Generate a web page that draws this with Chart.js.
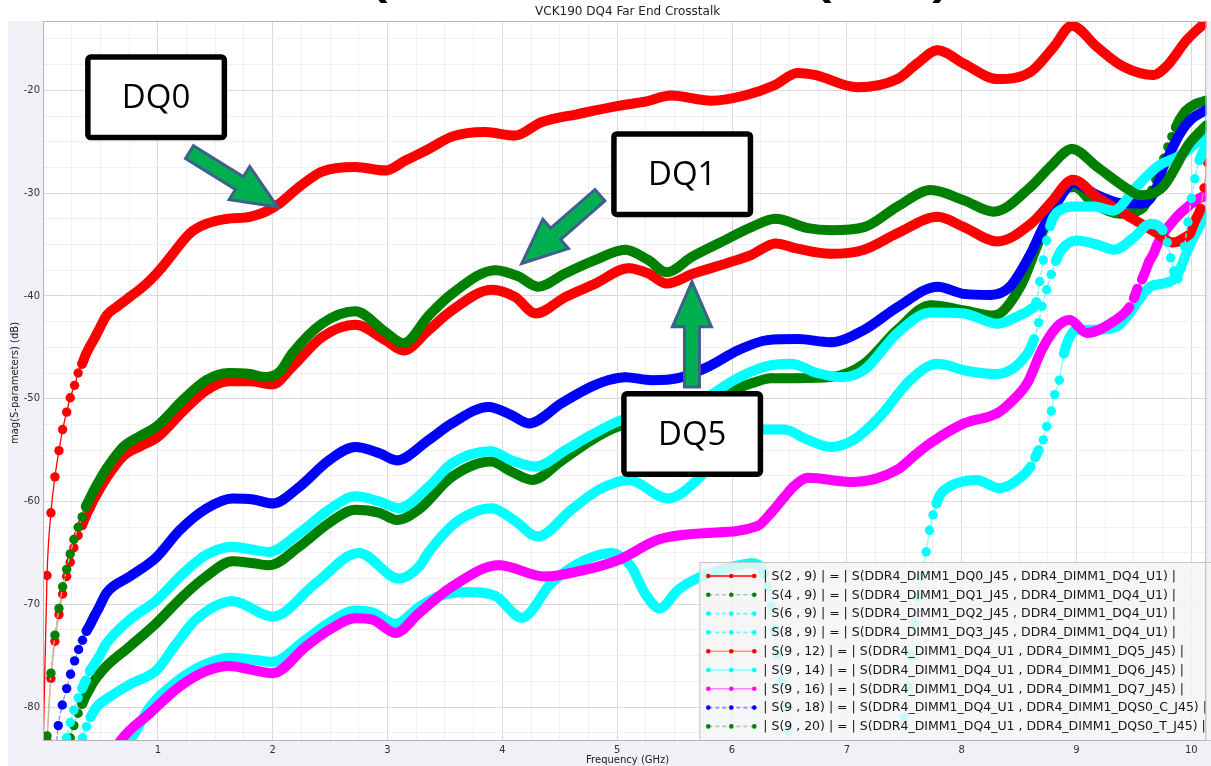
<!DOCTYPE html>
<html>
<head>
<meta charset="utf-8">
<title>VCK190 DQ4 Far End Crosstalk</title>
<script src="https://cdn.jsdelivr.net/npm/chart.js@4.4.1/dist/chart.umd.min.js"></script>
<style>
  html, body { margin: 0; padding: 0; background: #fff; overflow: hidden; }
  #wrap { width: 1211px; height: 766px; }
</style>
</head>
<body>
<div id="wrap"><canvas id="fext" width="1211" height="766"></canvas></div>
<script>
// Far end crosstalk into DQ4, [frequency GHz, magnitude dB]
const s2_9 = [[0.001,-84.5],[0.035,-67.2],[0.069,-61.1],[0.104,-57.6],[0.139,-55.05],[0.171,-53.0],[0.206,-51.3],[0.237,-49.9],[0.275,-48.7],[0.306,-47.5],[0.341,-46.6],[0.373,-45.7],[0.408,-44.9],[0.445,-44.2],[0.5,-43.0],[0.553,-41.9],[0.65,-41.0],[0.755,-40.1],[0.85,-39.3],[0.93,-38.5],[1.03,-37.3],[1.13,-35.9],[1.28,-33.9],[1.42,-33.0],[1.6,-32.5],[1.8,-32.3],[1.94,-31.8],[2.06,-31.0],[2.23,-29.4],[2.43,-27.9],[2.72,-27.45],[2.98,-27.8],[3.16,-26.8],[3.36,-25.7],[3.56,-24.5],[3.85,-24.05],[4.11,-24.4],[4.34,-23.1],[4.66,-22.3],[5.01,-21.5],[5.24,-21.1],[5.47,-20.5],[5.82,-21.0],[6.11,-20.5],[6.37,-19.5],[6.57,-18.3],[6.72,-18.5],[7.09,-19.7],[7.44,-18.9],[7.61,-17.4],[7.79,-16.1],[8.02,-17.4],[8.31,-18.9],[8.6,-18.2],[8.8,-15.8],[8.96,-13.7],[9.18,-15.8],[9.41,-17.7],[9.67,-18.5],[9.78,-17.7],[9.96,-15.1],[10.12,-13.4]];
const s4_9 = [[0.035,-82.8],[0.069,-76.7],[0.104,-73.0],[0.139,-70.4],[0.171,-68.3],[0.206,-66.6],[0.237,-65.1],[0.269,-63.7],[0.306,-62.5],[0.341,-61.5],[0.373,-60.5],[0.408,-59.7],[0.443,-58.9],[0.483,-58.1],[0.553,-56.8],[0.697,-54.7],[0.85,-53.6],[0.99,-52.7],[1.22,-50.1],[1.42,-48.2],[1.62,-47.5],[1.8,-47.6],[1.94,-47.9],[2.06,-47.4],[2.17,-45.6],[2.43,-42.7],[2.72,-41.5],[2.98,-43.5],[3.14,-44.6],[3.36,-41.9],[3.56,-39.8],[3.94,-37.5],[4.14,-38.1],[4.31,-39.1],[4.55,-37.8],[4.81,-36.5],[5.07,-35.5],[5.27,-36.5],[5.43,-37.7],[5.65,-36.2],[5.88,-34.9],[6.17,-33.3],[6.38,-32.5],[6.66,-33.4],[6.86,-33.6],[7.15,-33.3],[7.44,-31.3],[7.73,-29.7],[8.02,-30.7],[8.28,-31.8],[8.6,-29.4],[8.77,-27.45],[8.96,-25.7],[9.18,-27.45],[9.46,-29.7],[9.55,-30.2],[9.75,-29.4],[9.98,-25.2],[10.13,-23.4]];
const s6_9 = [[0.171,-86],[0.206,-83.0],[0.237,-81.5],[0.269,-80.3],[0.306,-79.1],[0.341,-78.2],[0.373,-77.4],[0.408,-76.5],[0.443,-75.9],[0.483,-75.2],[0.553,-73.8],[0.755,-71.5],[0.99,-69.6],[1.22,-67.0],[1.42,-65.2],[1.65,-64.4],[1.83,-64.7],[1.97,-64.9],[2.23,-63.1],[2.49,-60.8],[2.72,-59.5],[2.93,-60.0],[3.1,-60.65],[3.36,-58.55],[3.56,-56.3],[3.9,-55.1],[4.08,-56.0],[4.29,-56.6],[4.55,-55.0],[4.78,-53.5],[5.01,-52.2],[5.15,-51.8],[5.4,-52.2],[5.7,-50.5],[6.0,-48.3],[6.28,-46.9],[6.51,-46.6],[6.74,-47.5],[6.95,-47.9],[7.15,-47.2],[7.44,-43.6],[7.73,-41.6],[8.02,-41.7],[8.31,-42.7],[8.52,-41.8],[8.6,-41.3],[8.65,-40.6],[8.68,-38.6],[8.71,-36.5],[8.74,-34.6],[8.77,-33.2],[8.8,-32.3],[8.85,-31.7],[8.97,-31.3],[9.15,-31.3],[9.32,-31.7],[9.52,-29.4],[9.7,-27.45],[9.92,-26.2],[10.14,-24.2]];
const s8_9 = [[0.31,-86],[0.345,-83.0],[0.379,-81.9],[0.414,-81.0],[0.448,-80.3],[0.483,-79.8],[0.553,-79.2],[0.755,-77.8],[0.99,-76.4],[1.15,-74.0],[1.33,-71.5],[1.65,-69.7],[2.0,-71.2],[2.38,-67.9],[2.75,-65.0],[3.1,-67.5],[3.27,-66.4],[3.36,-64.9],[3.6,-62.0],[3.91,-60.65],[4.1,-61.8],[4.31,-63.4],[4.6,-60.8],[4.85,-58.8],[5.1,-57.9],[5.44,-59.7],[5.82,-56.6],[6.05,-54.3],[6.28,-53.0],[6.45,-53.0],[6.66,-54.0],[6.86,-54.7],[7.06,-54.0],[7.29,-51.7],[7.55,-48.2],[7.79,-46.6],[8.05,-47.3],[8.3,-47.6],[8.56,-45.8],[8.63,-44.2],[8.67,-42.6],[8.7,-41.0],[8.74,-39.4],[8.78,-37.9],[8.82,-36.6],[8.87,-35.5],[9.0,-34.6],[9.18,-35.0],[9.33,-35.5],[9.5,-34.3],[9.64,-33.0],[9.75,-33.6],[9.79,-34.8],[9.82,-36.3],[9.85,-37.6],[9.88,-38.3],[9.91,-37.3],[9.94,-35.2],[9.97,-32.8],[10.0,-30.5],[10.03,-28.6],[10.07,-26.8],[10.13,-25.3]];
const s9_12 = [[0.035,-83.3],[0.069,-77.2],[0.104,-73.6],[0.139,-71.0],[0.171,-69.0],[0.206,-67.3],[0.237,-65.9],[0.269,-64.5],[0.306,-63.3],[0.341,-62.3],[0.373,-61.4],[0.408,-60.6],[0.443,-59.8],[0.483,-59.0],[0.553,-57.7],[0.697,-55.6],[0.85,-54.6],[0.99,-53.8],[1.22,-51.2],[1.42,-49.2],[1.62,-48.3],[1.8,-48.3],[2.0,-48.6],[2.17,-46.9],[2.43,-44.0],[2.72,-42.8],[2.98,-44.3],[3.14,-45.3],[3.36,-43.3],[3.56,-41.4],[3.91,-39.4],[4.11,-40.1],[4.29,-41.7],[4.55,-40.1],[4.81,-38.8],[5.1,-37.3],[5.27,-37.8],[5.43,-38.8],[5.67,-37.8],[5.96,-36.8],[6.17,-36.0],[6.38,-34.9],[6.57,-35.4],[6.86,-35.9],[7.15,-35.5],[7.44,-33.9],[7.79,-32.3],[8.02,-33.3],[8.31,-34.7],[8.6,-33.0],[8.77,-31.0],[8.97,-28.7],[9.18,-30.4],[9.46,-32.3],[9.7,-33.9],[9.84,-34.8],[9.87,-34.75],[9.9,-34.6],[9.93,-34.4],[9.96,-34.2],[9.99,-33.9],[10.02,-33.0],[10.05,-32.3],[10.08,-31.5],[10.11,-29.5],[10.14,-27.0]];
const s9_14 = [[0.7,-84.5],[0.84,-81.7],[0.93,-80.0],[1.19,-77.3],[1.42,-75.8],[1.62,-75.2],[1.83,-75.4],[2.0,-75.6],[2.29,-73.4],[2.49,-71.8],[2.72,-70.6],[2.87,-70.8],[3.07,-71.9],[3.27,-70.3],[3.45,-69.2],[3.71,-68.8],[3.94,-69.2],[4.17,-71.3],[4.43,-67.9],[4.72,-65.7],[4.95,-65.0],[5.12,-66.3],[5.24,-68.9],[5.37,-70.4],[5.53,-68.6],[5.73,-67.3],[6.02,-66.3],[6.17,-66.0],[6.25,-66.3],[6.28,-67.0],[6.31,-68.3],[6.34,-70.2],[6.37,-72.4],[6.4,-74.9],[6.43,-77.5],[6.46,-80.0],[6.49,-82.3],[6.52,-84.6],[6.56,-87],[7.0,-95],[7.46,-87],[7.5,-81.0],[7.53,-78.0],[7.56,-75.0],[7.59,-71.8],[7.62,-69.3],[7.65,-67.3],[7.69,-64.9],[7.72,-62.8],[7.75,-61.3],[7.78,-60.2],[7.81,-59.4],[7.9,-58.5],[8.13,-57.9],[8.33,-58.7],[8.52,-57.6],[8.6,-56.6],[8.64,-55.7],[8.67,-55.0],[8.71,-54.0],[8.74,-52.7],[8.78,-51.2],[8.81,-49.6],[8.85,-48.2],[8.89,-45.6],[8.94,-44.0],[9.0,-43.3],[9.17,-43.3],[9.35,-43.0],[9.46,-41.7],[9.64,-39.1],[9.75,-38.8],[9.87,-38.1],[9.98,-35.2],[10.13,-32.0]];
const s9_16 = [[0.6,-84.8],[0.68,-83.2],[0.93,-80.6],[1.19,-78.0],[1.42,-76.5],[1.62,-76.0],[1.83,-76.4],[2.0,-76.7],[2.29,-74.1],[2.49,-72.5],[2.72,-71.35],[2.87,-71.5],[3.07,-72.8],[3.27,-70.9],[3.56,-68.3],[3.97,-66.2],[4.37,-67.3],[4.66,-66.8],[5.01,-65.7],[5.36,-63.7],[5.73,-63.1],[6.22,-62.4],[6.34,-61.1],[6.46,-59.5],[6.54,-58.5],[6.66,-57.7],[7.06,-58.1],[7.44,-56.9],[7.58,-55.6],[7.73,-54.3],[8.02,-52.4],[8.31,-51.4],[8.45,-50.1],[8.57,-48.5],[8.7,-45.2],[8.83,-43.0],[8.94,-42.35],[9.09,-43.6],[9.32,-42.5],[9.46,-41.1],[9.5,-40.2],[9.53,-39.3],[9.57,-38.4],[9.6,-37.6],[9.63,-36.7],[9.67,-35.9],[9.7,-35.1],[9.73,-34.4],[9.77,-33.7],[9.82,-33.0],[9.9,-32.0],[10.07,-30.5],[10.14,-30.2]];
const s9_18 = [[0.099,-86],[0.133,-81.8],[0.168,-79.8],[0.206,-78.2],[0.24,-76.8],[0.275,-75.5],[0.31,-74.4],[0.344,-73.5],[0.379,-72.6],[0.414,-71.9],[0.445,-71.2],[0.48,-70.5],[0.553,-68.9],[0.755,-67.3],[0.99,-65.4],[1.19,-62.8],[1.42,-60.7],[1.65,-59.7],[1.83,-59.8],[2.0,-60.2],[2.23,-58.6],[2.49,-56.0],[2.72,-54.7],[2.93,-55.3],[3.08,-56.0],[3.36,-54.0],[3.56,-52.4],[3.88,-50.8],[4.08,-51.6],[4.23,-52.4],[4.52,-50.4],[4.78,-48.8],[4.92,-48.2],[5.07,-47.9],[5.3,-48.2],[5.53,-48.0],[5.79,-46.9],[6.05,-45.3],[6.31,-44.3],[6.57,-44.2],[6.86,-44.5],[7.15,-43.3],[7.44,-41.1],[7.79,-39.1],[8.02,-39.8],[8.25,-39.9],[8.42,-39.1],[8.6,-35.9],[8.71,-33.3],[8.86,-30.4],[8.97,-29.0],[9.18,-30.2],[9.41,-31.0],[9.58,-31.0],[9.7,-29.4],[9.75,-27.6],[9.81,-26.2],[9.9,-24.2],[9.99,-22.9],[10.13,-21.9]];
const s9_20 = [[0.2,-86],[0.237,-83.0],[0.269,-81.8],[0.306,-80.6],[0.341,-79.7],[0.373,-78.9],[0.408,-78.2],[0.443,-77.5],[0.483,-76.9],[0.553,-76.0],[0.755,-74.1],[0.99,-71.8],[1.22,-69.2],[1.42,-67.3],[1.65,-65.8],[1.83,-66.0],[1.97,-66.2],[2.23,-64.4],[2.49,-62.1],[2.72,-60.8],[2.93,-61.1],[3.08,-61.8],[3.27,-60.8],[3.56,-57.6],[3.9,-56.1],[4.08,-57.1],[4.26,-57.9],[4.52,-56.0],[4.78,-54.0],[5.01,-52.7],[5.2,-52.4],[5.45,-52.6],[5.75,-50.6],[6.05,-49.0],[6.17,-48.5],[6.34,-48.0],[6.57,-48.0],[6.86,-47.9],[7.15,-46.6],[7.44,-43.3],[7.73,-40.9],[8.02,-41.4],[8.28,-41.9],[8.51,-39.1],[8.655,-35.2],[8.77,-32.0],[8.89,-29.7],[8.98,-29.4],[9.15,-31.0],[9.38,-32.0],[9.58,-31.4],[9.62,-30.6],[9.655,-29.7],[9.69,-28.7],[9.725,-27.7],[9.76,-26.6],[9.795,-25.5],[9.83,-24.5],[9.865,-23.6],[9.9,-22.8],[9.95,-22.0],[10.04,-21.3],[10.13,-21.0]];

const legendLabels = [
  '| S(2 , 9) | = | S(DDR4_DIMM1_DQ0_J45 , DDR4_DIMM1_DQ4_U1) |',
  '| S(4 , 9) | = | S(DDR4_DIMM1_DQ1_J45 , DDR4_DIMM1_DQ4_U1) |',
  '| S(6 , 9) | = | S(DDR4_DIMM1_DQ2_J45 , DDR4_DIMM1_DQ4_U1) |',
  '| S(8 , 9) | = | S(DDR4_DIMM1_DQ3_J45 , DDR4_DIMM1_DQ4_U1) |',
  '| S(9 , 12) | = | S(DDR4_DIMM1_DQ4_U1 , DDR4_DIMM1_DQ5_J45) |',
  '| S(9 , 14) | = | S(DDR4_DIMM1_DQ4_U1 , DDR4_DIMM1_DQ6_J45) |',
  '| S(9 , 16) | = | S(DDR4_DIMM1_DQ4_U1 , DDR4_DIMM1_DQ7_J45) |',
  '| S(9 , 18) | = | S(DDR4_DIMM1_DQ4_U1 , DDR4_DIMM1_DQS0_C_J45) |',
  '| S(9 , 20) | = | S(DDR4_DIMM1_DQ4_U1 , DDR4_DIMM1_DQS0_T_J45) |'
];

// marker colour, thin connector colour/dash, draw order (lower = on top)
const series = [
  { pts: s2_9,  color: '#ff0000', line: '#ff0000', dash: [],     order: 0 },
  { pts: s4_9,  color: '#008000', line: '#9fd29f', dash: [4, 3], order: 1 },
  { pts: s6_9,  color: '#00ffff', line: '#70f4f4', dash: [4, 3], order: 2 },
  { pts: s8_9,  color: '#00ffff', line: '#70f4f4', dash: [4, 3], order: 3 },
  { pts: s9_12, color: '#ff0000', line: '#ff8e8e', dash: [],     order: 4 },
  { pts: s9_14, color: '#00ffff', line: '#80ffff', dash: [],     order: 6 },
  { pts: s9_16, color: '#ff00ff', line: '#ff8aff', dash: [],     order: 5 },
  { pts: s9_18, color: '#0000ff', line: '#8c8cff', dash: [4, 3], order: 7 },
  { pts: s9_20, color: '#008000', line: '#9fd29f', dash: [4, 3], order: 8 }
];

// callout boxes and arrows, in GHz / dB
const callouts = [
  { text: 'DQ0', box: [0.985, -20.68], tail: [1.276, -26.0], tip: [2.043, -31.34] },
  { text: 'DQ1', box: [5.566, -28.15], tail: [4.85, -30.2],  tip: [4.169, -36.84] },
  { text: 'DQ5', box: [5.653, -53.43], tail: [5.651, -48.86], tip: [5.651, -38.63] }
];

const FONT = "'DejaVu Sans', sans-serif";
const near = (v, m) => Math.abs(v / m - Math.round(v / m)) < 1e-6;

// a segment between two close-spaced markers that do not touch is drawn as the thin connector
function thin(ctx) {
  const dx = Math.abs(ctx.p1.x - ctx.p0.x), dy = Math.abs(ctx.p1.y - ctx.p0.y);
  return dx < 5.2 && Math.hypot(dx, dy) > 10;
}

const datasets = series.map((s, i) => ({
  label: legendLabels[i],
  data: s.pts.map(([x, y]) => ({ x, y })),
  order: s.order,
  clip: 0,
  borderColor: s.color,
  borderWidth: 10,
  borderCapStyle: 'round',
  borderJoinStyle: 'round',
  cubicInterpolationMode: 'monotone',
  pointRadius: 4.7,
  pointBorderWidth: 0,
  pointBackgroundColor: s.color,
  segment: {
    borderWidth: ctx => thin(ctx) ? 1.3 : 10,
    borderColor: ctx => thin(ctx) ? s.line : s.color,
    borderDash: ctx => thin(ctx) ? s.dash : []
  }
}));

function arrow(ctx, x0, y0, x1, y1) {
  const len = Math.hypot(x1 - x0, y1 - y0), ang = Math.atan2(y1 - y0, x1 - x0);
  const sw = 7.5, hw = 19.5, hl = 45;
  ctx.save();
  ctx.translate(x0, y0);
  ctx.rotate(ang);
  ctx.beginPath();
  ctx.moveTo(0, -sw);
  ctx.lineTo(len - hl, -sw);
  ctx.lineTo(len - hl, -hw);
  ctx.lineTo(len, 0);
  ctx.lineTo(len - hl, hw);
  ctx.lineTo(len - hl, sw);
  ctx.lineTo(0, sw);
  ctx.closePath();
  ctx.fillStyle = '#00b050';
  ctx.fill();
  ctx.lineWidth = 3;
  ctx.strokeStyle = '#3f5f8c';
  ctx.stroke();
  ctx.restore();
}

function boxPath(ctx, x, y, w, h, r) {
  ctx.beginPath();
  ctx.moveTo(x + r, y);
  ctx.lineTo(x + w - r, y);
  ctx.arcTo(x + w, y, x + w, y + r, r);
  ctx.lineTo(x + w, y + h - r);
  ctx.arcTo(x + w, y + h, x + w - r, y + h, r);
  ctx.lineTo(x + r, y + h);
  ctx.arcTo(x, y + h, x, y + h - r, r);
  ctx.lineTo(x, y + r);
  ctx.arcTo(x, y, x + r, y, r);
  ctx.closePath();
}

const decor = {
  id: 'decor',
  beforeDraw(chart) {
    const { ctx, chartArea: a, width, height } = chart;
    ctx.save();
    ctx.fillStyle = '#ffffff';
    ctx.fillRect(0, 0, width, height);
    ctx.fillStyle = '#f0f0f7';
    ctx.fillRect(8, a.top, width - 8, height - a.top);
    ctx.fillStyle = '#ffffff';
    ctx.fillRect(a.left, a.top, a.right - a.left, a.bottom - a.top);
    ctx.restore();
  },
  afterDatasetsDraw(chart) {
    const { ctx, chartArea: a } = chart;
    const xs = chart.scales.x, ys = chart.scales.y;

    // legend
    ctx.save();
    const lx = a.right - 507, ly = a.bottom - 179;
    ctx.fillStyle = 'rgba(244,244,244,0.84)';
    ctx.fillRect(lx, ly, 520, 178);
    ctx.strokeStyle = '#c6c6c6';
    ctx.lineWidth = 1;
    ctx.strokeRect(lx + 0.5, ly + 0.5, 520, 178);
    ctx.font = '12.5px ' + FONT;
    ctx.textBaseline = 'middle';
    series.forEach((s, i) => {
      const y = ly + 14 + i * 18.8;
      ctx.setLineDash(s.dash);
      ctx.strokeStyle = i === 0 ? s.color : s.line;
      ctx.lineWidth = 1.6;
      ctx.beginPath();
      ctx.moveTo(lx + 9, y);
      ctx.lineTo(lx + 55, y);
      ctx.stroke();
      ctx.setLineDash([]);
      ctx.fillStyle = s.color;
      [9, 32, 55].forEach(dx => {
        ctx.beginPath();
        ctx.arc(lx + dx, y, 2.3, 0, Math.PI * 2);
        ctx.fill();
      });
      ctx.fillStyle = '#151515';
      ctx.fillText(legendLabels[i], lx + 64, y + 0.5);
    });
    ctx.restore();

    // callouts
    ctx.save();
    callouts.forEach(c => {
      arrow(ctx, xs.getPixelForValue(c.tail[0]), ys.getPixelForValue(c.tail[1]),
                 xs.getPixelForValue(c.tip[0]), ys.getPixelForValue(c.tip[1]));
    });
    callouts.forEach(c => {
      const cx = xs.getPixelForValue(c.box[0]), cy = ys.getPixelForValue(c.box[1]);
      boxPath(ctx, cx - 68.25, cy - 40.25, 136.5, 80.5, 3);
      ctx.fillStyle = '#ffffff';
      ctx.fill();
      ctx.lineWidth = 5.5;
      ctx.strokeStyle = '#000000';
      ctx.stroke();
      ctx.fillStyle = '#000000';
      ctx.font = "33px 'Open Sans', sans-serif";
      ctx.textAlign = 'center';
      ctx.textBaseline = 'middle';
      ctx.fillText(c.text, cx, cy + 1.5);
    });
    ctx.restore();

    // plot frame
    ctx.save();
    ctx.strokeStyle = '#b4b4b4';
    ctx.lineWidth = 1;
    ctx.strokeRect(a.left + 0.5, a.top + 0.5, a.right - a.left - 1, a.bottom - a.top - 1);
    ctx.restore();
  },
  afterDraw(chart) {
    const { ctx, chartArea: a } = chart;
    ctx.save();
    ctx.fillStyle = '#222222';
    ctx.textAlign = 'center';
    ctx.textBaseline = 'middle';
    ctx.font = '12px ' + FONT;
    ctx.fillText('VCK190 DQ4 Far End Crosstalk', (a.left + a.right) / 2 + 3, 12);
    ctx.font = '10px ' + FONT;
    ctx.fillText('Frequency (GHz)', (a.left + a.right) / 2 + 3, 760);
    ctx.translate(15, (a.top + a.bottom) / 2 + 2);
    ctx.rotate(-Math.PI / 2);
    ctx.fillText('mag(S-parameters) (dB)', 0, 0);
    ctx.restore();

    // lower edge of the slide heading above the chart
    ctx.save();
    ctx.fillStyle = '#000000';
    ctx.font = "bold 54px 'Open Sans', sans-serif";
    ctx.textAlign = 'center';
    ctx.textBaseline = 'alphabetic';
    ctx.fillText('(', 380, -5);
    ctx.fillText('(', 824, -5);
    ctx.fillText(')', 940, -5);
    ctx.restore();
  }
};

new Chart(document.getElementById('fext').getContext('2d'), {
  type: 'line',
  data: { datasets },
  options: {
    responsive: false,
    animation: false,
    events: [],
    layout: { padding: { top: 21, right: 1, left: 0, bottom: 0 } },
    plugins: {
      legend: { display: false },
      tooltip: { enabled: false },
      title: { display: false }
    },
    scales: {
      x: {
        type: 'linear',
        min: 0,
        max: 10.13,
        afterFit: s => { s.height = 25; },
        border: { display: false },
        grid: {
          drawTicks: false,
          color: ctx => near(ctx.tick.value, 1) ? '#d9d9d9' : '#efefef'
        },
        ticks: {
          stepSize: 0.25,
          maxTicksLimit: 100,
          autoSkip: false,
          includeBounds: false,
          maxRotation: 0,
          padding: 3,
          color: '#333333',
          font: { family: FONT, size: 10 },
          callback: v => (v > 0 && near(v, 1)) ? String(Math.round(v)) : ''
        }
      },
      y: {
        min: -83.3,
        max: -13.25,
        afterFit: s => { s.width = 43; },
        border: { display: false },
        grid: {
          drawTicks: false,
          color: ctx => near(ctx.tick.value, 10) ? '#d9d9d9' : '#efefef'
        },
        ticks: {
          stepSize: 2.5,
          maxTicksLimit: 100,
          autoSkip: false,
          includeBounds: false,
          padding: 3,
          color: '#333333',
          font: { family: FONT, size: 10 },
          callback: v => near(v, 10) ? String(Math.round(v)) : ''
        }
      }
    }
  },
  plugins: [decor]
});
</script>
</body>
</html>
